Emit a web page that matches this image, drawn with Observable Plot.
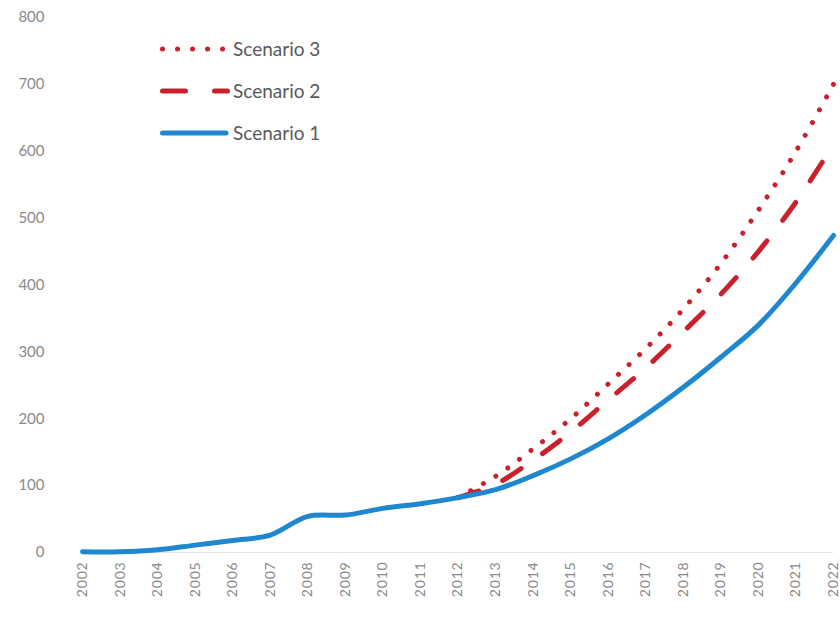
<!DOCTYPE html>
<html>
<head>
<meta charset="utf-8">
<script src="https://cdn.jsdelivr.net/npm/d3@7"></script>
<script src="https://cdn.jsdelivr.net/npm/@observablehq/plot@0.6"></script>
<style>
  html, body { margin: 0; padding: 0; background: #fff; }
  #wrap { position: relative; width: 840px; height: 626px; font-family: Lato, "Open Sans", sans-serif; }
  #legend { position: absolute; left: 0; top: 0; }
</style>
</head>
<body>
<div id="wrap"></div>
<script>
const years = [2002,2003,2004,2005,2006,2007,2008,2009,2010,2011,2012,2013,2014,2015,2016,2017,2018,2019,2020,2021,2022];
const scenario1 = [1,1,4,11,18,26,54,56,66,73,82,94,115,140,170,206,247,292,340,403,474];
const scenario2Years = [2012,2013,2014,2015,2016,2017,2018,2019,2020,2021,2022];
const scenario2 = [82,102,138,180,228,276,330,386,450,524,610];
const scenario3Years = [2012,2013,2014,2015,2016,2017,2018,2019,2020,2021,2022];
const scenario3 = [82,114,155,200,252,305,364,432,512,600,700];
const yTicks = [0,100,200,300,400,500,600,700,800];
const seriesNames = ["Scenario 3","Scenario 2","Scenario 1"];

const blue = "#1f87cf";
const red = "#c9202b";

const d1 = years.map((y,i) => ({year: y, value: scenario1[i]}));
const d2 = scenario2Years.map((y,i) => ({year: y, value: scenario2[i]}));
const d3s = scenario3Years.map((y,i) => ({year: y, value: scenario3[i]}));

const chart = Plot.plot({
  width: 840,
  height: 626,
  marginLeft: 82,
  marginRight: 7,
  marginTop: 17,
  marginBottom: 74,
  style: {fontFamily: "Lato, 'Open Sans', sans-serif", background: "#fff"},
  x: {domain: [2002, 2022], ticks: years, tickFormat: d => String(d), tickRotate: -90, tickSize: 0, tickPadding: 9, label: null},
  y: {domain: [0, 800], ticks: yTicks, tickSize: 0, tickPadding: 38, label: null},
  marks: [
    Plot.ruleY([0], {stroke: "#e4e4e4", strokeWidth: 1}),
    Plot.lineY(d3s, {x: "year", y: "value", stroke: red, strokeWidth: 5, strokeDasharray: "0.01 14.5", strokeLinecap: "round", curve: "catmull-rom"}),
    Plot.lineY(d2, {x: "year", y: "value", stroke: red, strokeWidth: 5, strokeDasharray: "22 26", strokeLinecap: "round", curve: "catmull-rom"}),
    Plot.lineY(d1, {x: "year", y: "value", stroke: blue, strokeWidth: 5, strokeLinecap: "round", curve: "catmull-rom"})
  ]
});
chart.querySelectorAll("g[aria-label='y-axis tick label']").forEach(g => { g.setAttribute("font-size", "15"); g.setAttribute("fill", "#8a8a8a"); });
chart.querySelectorAll("g[aria-label='x-axis tick label']").forEach(g => { g.setAttribute("font-size", "14"); g.setAttribute("fill", "#8a8a8a"); g.setAttribute("letter-spacing", "0.8"); });

const wrap = document.getElementById("wrap");
wrap.appendChild(chart);

// Legend overlay
const ns = "http://www.w3.org/2000/svg";
const leg = document.createElementNS(ns, "svg");
leg.setAttribute("id", "legend");
leg.setAttribute("width", "400");
leg.setAttribute("height", "160");
const styles = [
  {stroke: red, dash: "0.01 15"},
  {stroke: red, dash: "23 29"},
  {stroke: blue, dash: null}
];
const rowY = [49, 91, 133];
seriesNames.forEach((name, i) => {
  const line = document.createElementNS(ns, "line");
  line.setAttribute("x1", 162.5);
  line.setAttribute("x2", i === 1 ? 227.5 : 226);
  line.setAttribute("y1", rowY[i]);
  line.setAttribute("y2", rowY[i]);
  line.setAttribute("stroke", styles[i].stroke);
  line.setAttribute("stroke-width", "5");
  line.setAttribute("stroke-linecap", "round");
  if (styles[i].dash) line.setAttribute("stroke-dasharray", styles[i].dash);
  leg.appendChild(line);
  const text = document.createElementNS(ns, "text");
  text.setAttribute("x", 233);
  text.setAttribute("y", rowY[i]);
  text.setAttribute("dy", "0.35em");
  text.setAttribute("font-size", "19");
  text.setAttribute("fill", "#595959");
  text.setAttribute("font-family", "Lato, 'Open Sans', sans-serif");
  text.textContent = name;
  leg.appendChild(text);
});
wrap.appendChild(leg);
</script>
</body>
</html>
